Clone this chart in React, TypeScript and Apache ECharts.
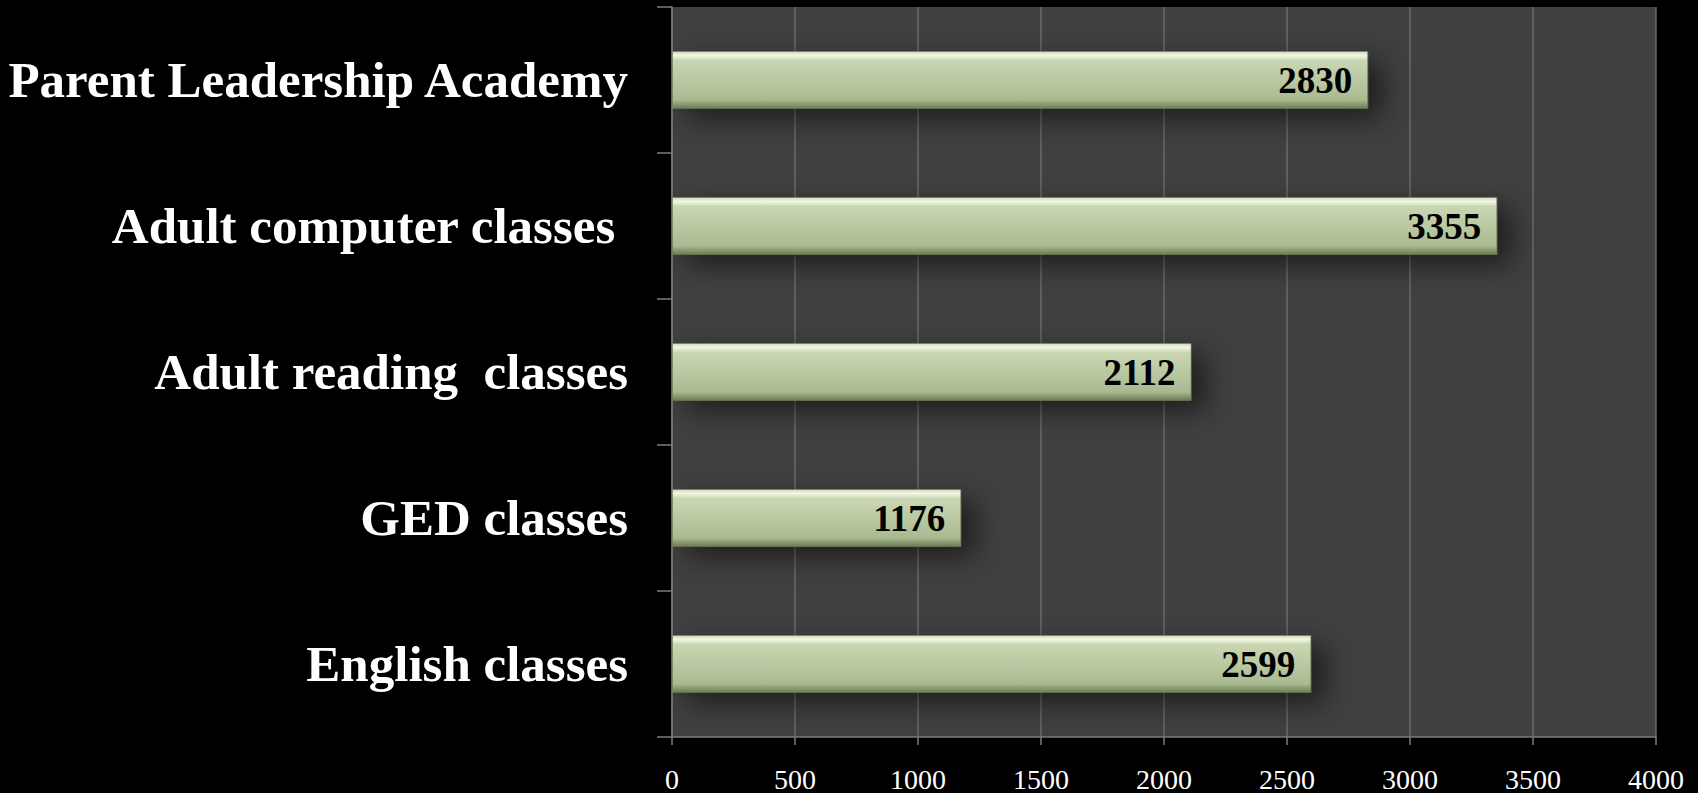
import React, { useEffect, useRef } from "react";
import * as echarts from "echarts";

const categories = [
  "English classes",
  "GED classes",
  "Adult reading  classes",
  "Adult computer classes ",
  "Parent Leadership Academy",
];
const values = [2599, 1176, 2112, 3355, 2830];
const xTicks = [0, 500, 1000, 1500, 2000, 2500, 3000, 3500, 4000];

const FONT = "'Liberation Serif', 'Times New Roman', serif";

export default function App() {
  const ref = useRef<HTMLDivElement>(null);
  useEffect(() => {
    document.body.style.margin = "0";
    document.body.style.background = "#000";
    const chart = echarts.init(ref.current!, null, { renderer: "svg" });
    chart.setOption({
      animation: false,
      backgroundColor: "#000000",
      grid: {
        left: 672,
        right: 42,
        top: 7,
        bottom: 54,
        show: true,
        backgroundColor: "#404040",
        borderWidth: 0,
      },
      xAxis: {
        type: "value",
        min: xTicks[0],
        max: xTicks[xTicks.length - 1],
        interval: 500,
        axisLine: { show: true, lineStyle: { color: "#7c7c7c", width: 1.5 } },
        axisTick: { show: true, length: 8, lineStyle: { color: "#7c7c7c", width: 1.5 } },
        splitLine: { show: true, lineStyle: { color: "#6a6a6a", width: 1.5 } },
        axisLabel: {
          color: "#ffffff",
          fontFamily: FONT,
          fontSize: 28,
          margin: 28,
          formatter: (v: number) => String(v),
        },
      },
      yAxis: {
        type: "category",
        data: categories,
        axisLine: { show: true, lineStyle: { color: "#7c7c7c", width: 1.5 } },
        axisTick: { show: true, length: 15, lineStyle: { color: "#7c7c7c", width: 1.5 } },
        axisLabel: {
          color: "#ffffff",
          fontFamily: FONT,
          fontWeight: "bold",
          fontSize: 51,
          margin: 44,
        },
      },
      series: [
        {
          type: "bar",
          data: values,
          barWidth: 58,
          itemStyle: {
            color: new echarts.graphic.LinearGradient(0, 0, 0, 1, [
              { offset: 0, color: "#cfdcb8" },
              { offset: 0.07, color: "#f1f7e2" },
              { offset: 0.16, color: "#c9d6b2" },
              { offset: 0.55, color: "#b8c7a0" },
              { offset: 0.85, color: "#a9b990" },
              { offset: 1, color: "#6c7b55" },
            ]),
            borderColor: "rgba(110,125,85,0.6)",
            borderWidth: 1,
            shadowColor: "rgba(0,0,0,0.55)",
            shadowBlur: 28,
            shadowOffsetX: 14,
            shadowOffsetY: 10,
          },
          label: {
            show: true,
            position: "insideRight",
            distance: 16,
            color: "#000000",
            fontFamily: FONT,
            fontWeight: "bold",
            fontSize: 37,
          },
        },
      ],
    });
    return () => chart.dispose();
  }, []);
  return (
    <div
      ref={ref}
      style={{ position: "fixed", left: 0, top: 0, width: 1698, height: 793 }}
    />
  );
}
